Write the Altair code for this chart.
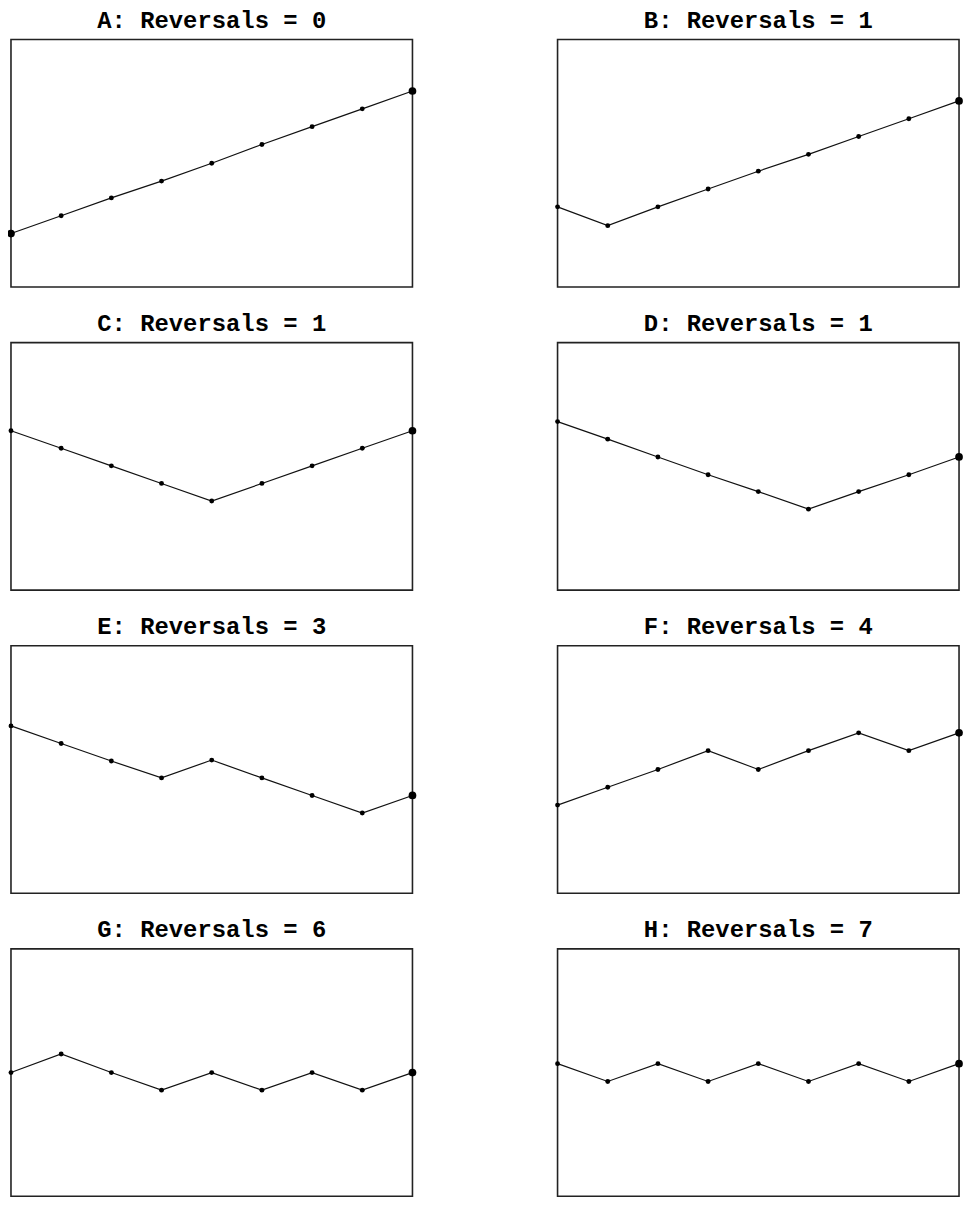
import altair as alt
import pandas as pd

labels = ["A", "B", "C", "D", "E", "F", "G", "H"]
reversals = [0, 1, 1, 1, 3, 4, 6, 7]
steps = [0, 1, 2, 3, 4, 5, 6, 7, 8]

vals_A = [21.6, 28.8, 36.0, 42.8, 50.0, 57.6, 64.8, 72.0, 79.2]
vals_B = [32.4, 24.8, 32.4, 39.6, 46.8, 53.6, 60.8, 68.0, 75.2]
vals_C = [64.4, 57.3, 50.2, 43.1, 36.0, 43.1, 50.2, 57.3, 64.4]
vals_D = [68.1, 61.0, 53.8, 46.6, 39.8, 32.7, 39.8, 46.6, 53.8]
vals_E = [67.6, 60.5, 53.4, 46.6, 53.8, 46.6, 39.5, 32.4, 39.5]
vals_F = [35.6, 42.8, 50.0, 57.6, 50.0, 57.6, 64.8, 57.6, 64.8]
vals_G = [50.0, 57.5, 50.0, 42.9, 50.0, 42.9, 50.0, 42.9, 50.0]
vals_H = [53.6, 46.4, 53.6, 46.4, 53.6, 46.4, 53.6, 46.4, 53.6]

series = [vals_A, vals_B, vals_C, vals_D, vals_E, vals_F, vals_G, vals_H]

W = 404
H = 249

panels = []
for lab, rev, vals in zip(labels, reversals, series):
    df = pd.DataFrame({"i": steps, "v": vals, "panel": lab})
    base = alt.Chart(df).encode(
        x=alt.X("i:Q", axis=None, scale=alt.Scale(domain=[0, 8], nice=False, zero=False)),
        y=alt.Y("v:Q", axis=None, scale=alt.Scale(domain=[0, 100], nice=False, zero=False)),
    )
    line = base.mark_line(color="#111111", strokeWidth=1.2)
    pts = base.mark_circle(color="#000000", opacity=1).encode(
        size=alt.condition(
            "datum.i == 8 || (datum.panel == 'A' && datum.i == 0)",
            alt.value(60),
            alt.value(24),
        )
    )
    ttl = alt.Chart(pd.DataFrame({"t": [f"{lab}: Reversals = {rev}"]})).mark_text(
        font="Liberation Mono",
        fontSize=24,
        fontWeight="bold",
        color="#000000",
        align="center",
        baseline="alphabetic",
    ).encode(
        text="t:N",
        x=alt.value(W / 2),
        y=alt.value(-12),
    )
    panel = alt.layer(line, pts, ttl).properties(width=W, height=H)
    panels.append(panel)

chart = alt.concat(
    *panels, columns=2, spacing={"row": 56, "column": 146}, bounds="flush"
).properties(
    padding={"left": -2, "top": -4, "right": 0, "bottom": 0},
    background="white",
).configure_view(
    stroke="#222222", strokeWidth=1.6
)

chart.save("out.html", embed_options={"renderer": "svg", "actions": False})
